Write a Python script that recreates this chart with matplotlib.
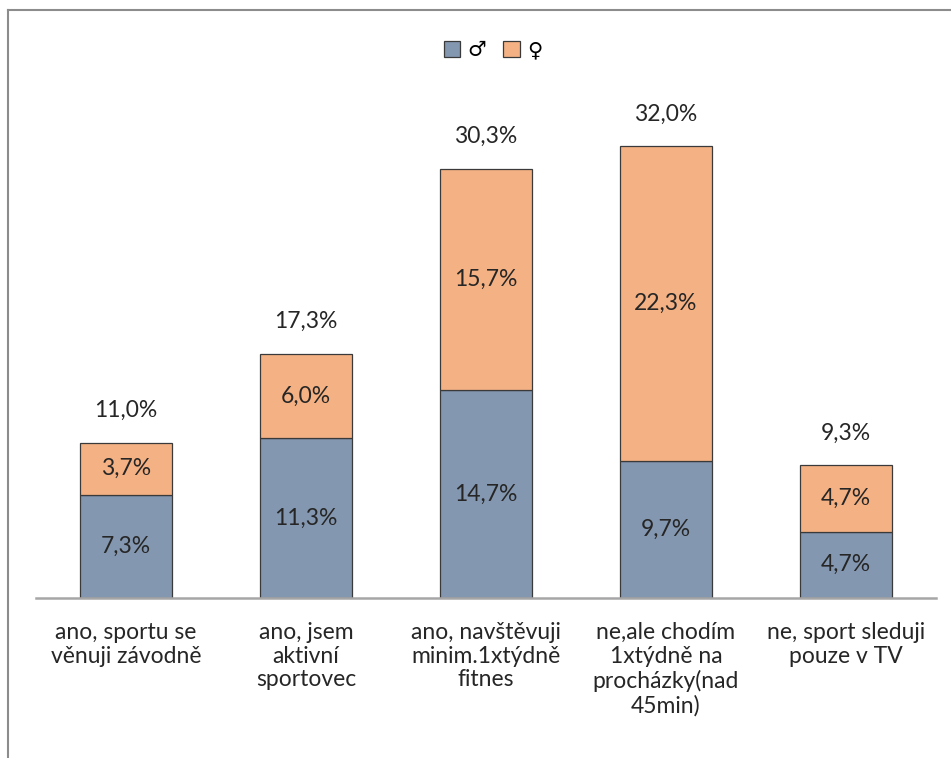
import matplotlib
matplotlib.use("Agg")
import matplotlib.pyplot as plt
from matplotlib.lines import Line2D
from matplotlib.patches import Patch

categories = [
    "ano, sportu se\nvěnuji závodně",
    "ano, jsem\naktivní\nsportovec",
    "ano, navštěvuji\nminim.1xtýdně\nfitnes",
    "ne,ale chodím\n1xtýdně na\nprocházky(nad\n45min)",
    "ne, sport sleduji\npouze v TV",
]
male = [7.3, 11.3, 14.7, 9.7, 4.7]
female = [3.7, 6.0, 15.7, 22.3, 4.7]
totals = [11.0, 17.3, 30.3, 32.0, 9.3]
series_names = ["♂", "♀"]

c_male = "#8497B0"
c_female = "#F4B183"
edge = "#3a3a3a"
txt = "#262626"
fs = 16.5

plt.rcParams["font.family"] = ["Lato", "DejaVu Sans"]

fig = plt.figure(figsize=(9.51, 7.58), dpi=100)
ax = fig.add_axes([36 / 951, 1 - 598 / 758, 900 / 951, (598 - 89.5) / 758])

x = list(range(len(categories)))
w = 0.51
ax.bar(x, male, width=w, color=c_male, edgecolor=edge, linewidth=0.9)
ax.bar(x, female, width=w, bottom=male, color=c_female, edgecolor=edge, linewidth=0.9)

def fmt(v):
    return f"{v:.1f}%".replace(".", ",")

for i in x:
    ax.text(i, male[i] / 2, fmt(male[i]), ha="center", va="center", fontsize=fs, color=txt)
    ax.text(i, male[i] + female[i] / 2, fmt(female[i]), ha="center", va="center", fontsize=fs, color=txt)
    ax.annotate(fmt(totals[i]), (i, male[i] + female[i]), xytext=(0, 23),
                textcoords="offset points", ha="center", va="center", fontsize=fs, color=txt)

ax.set_xlim(-0.5, 4.5)
ax.set_ylim(0, 36)
ax.set_yticks([])
ax.set_xticks(x)
ax.set_xticklabels(categories, fontsize=fs, color=txt, linespacing=1.17, va="top")
ax.tick_params(axis="x", length=0, pad=17)
for s in ["left", "right", "top"]:
    ax.spines[s].set_visible(False)
ax.spines["bottom"].set_color("#A6A6A6")
ax.spines["bottom"].set_linewidth(1.8)

handles = [Patch(facecolor=c_male, edgecolor=edge, linewidth=0.9),
           Patch(facecolor=c_female, edgecolor=edge, linewidth=0.9)]
fig.legend(handles, series_names, loc="center", bbox_to_anchor=(493 / 951, 1 - 50 / 758),
           ncol=2, frameon=False, handlelength=0.8, handleheight=0.8,
           handletextpad=0.35, columnspacing=0.8, prop={"family": ["DejaVu Sans"], "size": 15})

# outer chart frame
fig.add_artist(Line2D([8 / 951, 8 / 951], [0, 1 - 10 / 758], transform=fig.transFigure,
                      color="#8c8c8c", linewidth=1.5))
fig.add_artist(Line2D([8 / 951, 1], [1 - 10 / 758, 1 - 10 / 758], transform=fig.transFigure,
                      color="#8c8c8c", linewidth=1.5))

fig.savefig("out.png", dpi=100, facecolor="white")
